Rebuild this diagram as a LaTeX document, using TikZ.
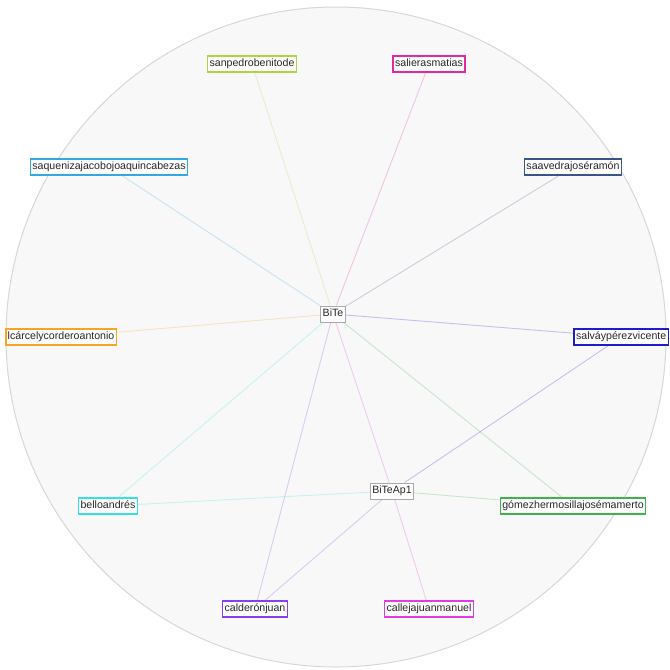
\documentclass[tikz,border=0pt]{standalone}
\usepackage{fontspec}
\setmainfont{Liberation Sans}
\definecolor{cSan}{RGB}{170,215,60}
\definecolor{cSal}{RGB}{225,40,165}
\definecolor{cSaq}{RGB}{50,170,225}
\definecolor{cSaa}{RGB}{55,85,135}
\definecolor{cAlc}{RGB}{245,165,35}
\definecolor{cSav}{RGB}{30,30,200}
\definecolor{cBel}{RGB}{50,225,225}
\definecolor{cGom}{RGB}{60,180,75}
\definecolor{cCal}{RGB}{135,65,235}
\definecolor{cCaj}{RGB}{225,60,225}
\definecolor{cHub}{RGB}{170,170,170}
\definecolor{cBg}{RGB}{248,248,248}
\definecolor{cRim}{RGB}{215,215,215}
\tikzset{
  leaf/.style={draw=#1, line width=1.5pt, fill=white, font=\fontsize{10.6}{12}\selectfont,
    inner xsep=2pt, inner ysep=0pt, text height=8.5pt, text depth=3pt, minimum height=16pt, text=black!85},
  hub/.style={draw=cHub, line width=0.9pt, fill=white, font=\fontsize{10.6}{12}\selectfont,
    inner xsep=2pt, inner ysep=0pt, text height=8.5pt, text depth=3pt, minimum height=16pt, text=black!85},
  link/.style={draw=#1, line width=0.9pt, draw opacity=0.25}
}
\begin{document}
\begin{tikzpicture}[x=1pt,y=-1pt]
\useasboundingbox (0,0) rectangle (670,670);
\draw[cRim, fill=cBg, line width=1pt] (336,337) circle (330);
% nodes
\node[hub] (bite) at (333,314) {BiTe};
\node[hub] (biteap) at (392,491) {BiTeAp1};
\node[leaf=cSan] (san) at (252,64) {sanpedrobenitode};
\node[leaf=cSal] (sal) at (429,64) {salierasmatias};
\node[leaf=cSaq] (saq) at (109,167) {saquenizajacobojoaquincabezas};
\node[leaf=cSaa] (saa) at (573,167) {saavedrajoséramón};
\node[leaf=cAlc, anchor=west] (alc) at (5,337) {lcárcelycorderoantonio};
\node[leaf=cSav, anchor=east] (sav) at (669,337) {salváypérezvicente};
\node[leaf=cBel] (bel) at (108,506) {belloandrés};
\node[leaf=cGom] (gom) at (573,506) {gómezhermosillajosémamerto};
\node[leaf=cCal] (cal) at (255,609) {calderónjuan};
\node[leaf=cCaj] (caj) at (429,609) {callejajuanmanuel};
% edges
\path[link=cSan] (bite) -- (san);
\path[link=cSal] (bite) -- (sal);
\path[link=cSaq] (bite) -- (saq);
\path[link=cSaa] (bite) -- (saa);
\path[link=cAlc] (bite) -- (alc);
\path[link=cSav] (bite) -- (sav);
\path[link=cBel] (bite) -- (bel);
\path[link=cGom] (bite) -- (gom);
\path[link=cCal] (bite) -- (cal);
\path[link=cCaj] (bite) -- (biteap);
\path[link=cCaj] (biteap) -- (caj);
\path[link=cBel] (biteap) -- (bel);
\path[link=cSav] (biteap) -- (sav);
\path[link=cCal] (biteap) -- (cal);
\path[link=cGom] (biteap) -- (gom);
\end{tikzpicture}
\end{document}
